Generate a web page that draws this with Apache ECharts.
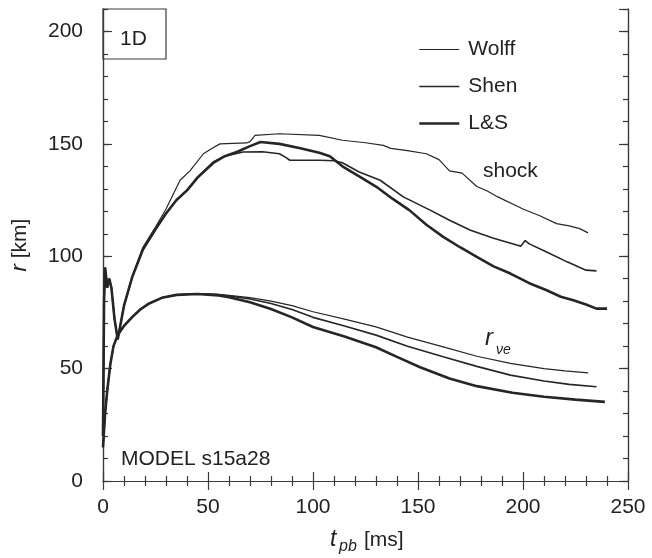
<!DOCTYPE html>
<html>
<head>
<meta charset="utf-8">
<script src="https://cdn.jsdelivr.net/npm/echarts@6/dist/echarts.min.js"></script>
<style>
  html, body { margin: 0; padding: 0; background: #fff; }
  #chart { width: 652px; height: 558px; }
</style>
</head>
<body>
<div id="chart"></div>
<script>
// shock radius and neutrinosphere radius vs post-bounce time, three EoS

var xTicks = [0, 50, 100, 150, 200, 250];
var yTicks = [0, 50, 100, 150, 200];
var eosNames = ['Wolff', 'Shen', 'L&S'];

// shock radius [t (ms), r (km)]
var shockWolff = [
    [0, 20], [0.5, 80], [1, 95], [2, 86], [3, 90], [4, 86], [5.5, 72], [7, 63],
    [10, 78], [14, 91], [19, 104], [25, 113], [30, 121], [36.7, 133.8], [41.4, 138],
    [47.8, 145.6], [52, 148], [55.7, 150], [62, 150.2], [68.4, 150.4], [70, 151],
    [72.4, 153.8], [84, 154.5], [103, 153.8], [114, 151.6], [125, 150.5], [133.5, 149.3],
    [137, 148], [145, 147], [154, 145.6], [160, 143], [165, 138], [171, 137], [178, 131],
    [183, 129], [188, 126.4], [200, 121], [208, 118], [216, 114.5], [222, 113.5],
    [227, 112.3], [231, 110.4]
];
var shockShen = [
    [0, 20], [0.5, 80], [1, 95], [2, 86], [3, 90], [4, 86], [5.5, 72], [7, 63],
    [10, 78], [14, 91], [19, 103], [25, 112], [30, 119], [35, 125], [40, 129.3],
    [45, 135], [52.5, 141.9], [58, 144.5], [66.7, 146.4], [76, 146.5], [84, 145.6],
    [87, 144], [89, 142.7], [103, 142.7], [110, 142.5], [114, 141.6], [122, 137.5],
    [132, 133.8], [143, 126.4], [156, 120.4], [165, 116], [175, 111.6], [186, 108],
    [197, 105], [199, 104.5], [201, 107], [203, 105.5], [211, 102], [221, 97.5],
    [230, 93.8], [235, 93.5]
];
var shockLS = [
    [0, 20], [0.5, 80], [1, 95], [2, 86], [3, 90], [4, 86], [5.5, 72], [7, 63],
    [10, 78], [14, 91], [19, 103], [25, 112], [30, 119], [35, 125], [40, 129.3],
    [45, 135], [52.5, 141.5], [58, 144.5], [64, 146.5], [70, 149], [75, 150.8],
    [84, 150], [94, 148], [103, 146], [108, 144.5], [114, 140], [122, 135.5],
    [130, 131], [138, 125.5], [146, 120.4], [154, 114], [162, 108.6], [170, 104],
    [178, 99.7], [186, 95.5], [194, 92.3], [203, 88], [211, 85], [218, 82],
    [224, 80.4], [230, 78.5], [235, 76.7], [240, 76.7]
];

// neutrinosphere radius [t (ms), r (km)]
var nusphWolff = [
    [0, 15], [1, 30], [2, 40], [3.5, 52], [5, 60], [7, 65], [10, 69], [14, 73],
    [18, 76.5], [22, 79], [28, 81.5], [35, 82.8], [45, 83.3], [55, 83], [60, 82.6],
    [70, 81.6], [80, 80], [90, 78], [100, 75.3], [115, 72], [130, 68.6], [145, 64],
    [162, 59.7], [178, 55.5], [194, 52.3], [210, 50], [220, 49], [231, 48.1]
];
var nusphShen = [
    [0, 15], [1, 30], [2, 40], [3.5, 52], [5, 60], [7, 65], [10, 69], [14, 73],
    [18, 76.5], [22, 79], [28, 81.5], [35, 82.8], [45, 83.3], [55, 82.9], [60, 82.3],
    [70, 81], [80, 79], [90, 76.3], [100, 72.8], [115, 69], [130, 64.9], [145, 60],
    [162, 55.3], [178, 51], [194, 47.1], [210, 44.5], [222, 43], [235, 41.9]
];
var nusphLS = [
    [0, 15], [1, 30], [2, 40], [3.5, 52], [5, 60], [7, 65], [10, 69], [14, 73],
    [18, 76.5], [22, 79], [28, 81.5], [35, 82.8], [45, 83.2], [55, 82.6], [60, 81.8],
    [70, 79.5], [80, 76.5], [90, 72.8], [100, 68.5], [115, 64.3], [130, 59.5], [140, 55.2],
    [151, 50.6], [165, 45.6], [178, 42.2], [195, 39.3], [210, 37.5], [225, 36.2], [239, 35.2]
];

var lineWidths = [1.2, 1.6, 2.6];
var lineColor = '#262626';
var axisColor = '#3a3a3a';
var fontFamily = '"Liberation Sans", Arial, sans-serif';

var chart = echarts.init(document.getElementById('chart'));

function mkLine(name, data, width) {
    return {
        name: name,
        type: 'line',
        data: data,
        showSymbol: false,
        symbol: 'none',
        smooth: false,
        animation: false,
        lineStyle: { color: lineColor, width: width },
        itemStyle: { color: lineColor },
        xAxisIndex: 0,
        yAxisIndex: 0
    };
}

function yAx(pos, interval, len, showLabel) {
    return {
        type: 'value',
        position: pos,
        min: 0,
        max: 210,
        interval: interval,
        axisLine: { show: true, lineStyle: { color: axisColor, width: 1.2 } },
        axisTick: { show: true, inside: true, length: len, lineStyle: { color: axisColor, width: 1.2 } },
        axisLabel: {
            show: showLabel,
            margin: 20,
            fontSize: 21,
            color: '#222',
            fontFamily: fontFamily,
            showMaxLabel: false,
            formatter: function (v) { return yTicks.indexOf(v) >= 0 ? String(v) : ''; }
        },
        splitLine: { show: false }
    };
}

function xAx(pos, showLabel) {
    return {
        type: 'value',
        position: pos,
        min: xTicks[0],
        max: xTicks[xTicks.length - 1],
        interval: 50,
        axisLine: { show: true, lineStyle: { color: axisColor, width: 1.2 } },
        axisTick: { show: true, inside: true, length: 9, lineStyle: { color: axisColor, width: 1.2 } },
        minorTick: { show: true, splitNumber: 5, length: 5, lineStyle: { color: axisColor, width: 1.2 } },
        axisLabel: {
            show: showLabel,
            margin: 16,
            fontSize: 21,
            color: '#222',
            fontFamily: fontFamily
        },
        splitLine: { show: false },
        minorSplitLine: { show: false }
    };
}

var yLeft = yAx('left', 50, 9, true);
yLeft.name = '{i|r} [km]';
yLeft.nameLocation = 'middle';
yLeft.nameGap = 72;
yLeft.nameTextStyle = {
    fontSize: 21, color: '#222', fontFamily: fontFamily,
    rich: { i: { fontStyle: 'italic', fontSize: 22, fontFamily: fontFamily, color: '#222' } }
};

var option = {
    backgroundColor: '#fff',
    animation: false,
    grid: { left: 103, right: 24, top: 9, bottom: 77, containLabel: false },
    legend: {
        orient: 'vertical',
        left: 413,
        top: 34,
        itemWidth: 40,
        itemHeight: 14,
        itemGap: 16,
        selectedMode: false,
        data: eosNames.map(function (n, i) {
            return { name: n, lineStyle: { width: lineWidths[i], color: lineColor } };
        }),
        itemStyle: { opacity: 0 },
        textStyle: { fontSize: 21, color: '#222', fontFamily: fontFamily, padding: [0, 0, 0, 4] }
    },
    xAxis: [xAx('bottom', true), xAx('top', false)],
    yAxis: [yLeft, yAx('left', 10, 5, false), yAx('right', 50, 9, false), yAx('right', 10, 5, false)],
    series: [
        mkLine(eosNames[0], shockWolff, lineWidths[0]),
        mkLine(eosNames[1], shockShen, lineWidths[1]),
        mkLine(eosNames[2], shockLS, lineWidths[2]),
        mkLine(eosNames[0], nusphWolff, lineWidths[0]),
        mkLine(eosNames[1], nusphShen, lineWidths[1]),
        mkLine(eosNames[2], nusphLS, lineWidths[2])
    ],
    graphic: [
        { type: 'rect', shape: { x: 103, y: 9, width: 63, height: 50 },
          style: { fill: 'none', stroke: axisColor, lineWidth: 1.2 } },
        { type: 'text', x: 120, y: 39,
          style: { text: '1D', fontSize: 21, fill: '#222', fontFamily: fontFamily, verticalAlign: 'middle' } },
        { type: 'text', x: 483, y: 171,
          style: { text: 'shock', fontSize: 21, fill: '#222', fontFamily: fontFamily, verticalAlign: 'middle' } },
        { type: 'text', x: 485, y: 338,
          style: { text: 'r', fontSize: 24, fontStyle: 'italic', fill: '#222', fontFamily: fontFamily, verticalAlign: 'middle' } },
        { type: 'text', x: 496, y: 350,
          style: { text: 'νe', fontSize: 14, fontStyle: 'italic', fill: '#222', fontFamily: fontFamily, verticalAlign: 'middle' } },
        { type: 'text', x: 121, y: 459,
          style: { text: 'MODEL s15a28', fontSize: 21, fill: '#222', fontFamily: fontFamily, verticalAlign: 'middle' } },
        { type: 'text', x: 330, y: 540,
          style: { text: 't', fontSize: 23, fontStyle: 'italic', fill: '#222', fontFamily: fontFamily, verticalAlign: 'middle' } },
        { type: 'text', x: 339, y: 547,
          style: { text: 'pb', fontSize: 16, fontStyle: 'italic', fill: '#222', fontFamily: fontFamily, verticalAlign: 'middle' } },
        { type: 'text', x: 364, y: 540,
          style: { text: '[ms]', fontSize: 21, fill: '#222', fontFamily: fontFamily, verticalAlign: 'middle' } }
    ]
};

chart.setOption(option);
</script>
</body>
</html>
